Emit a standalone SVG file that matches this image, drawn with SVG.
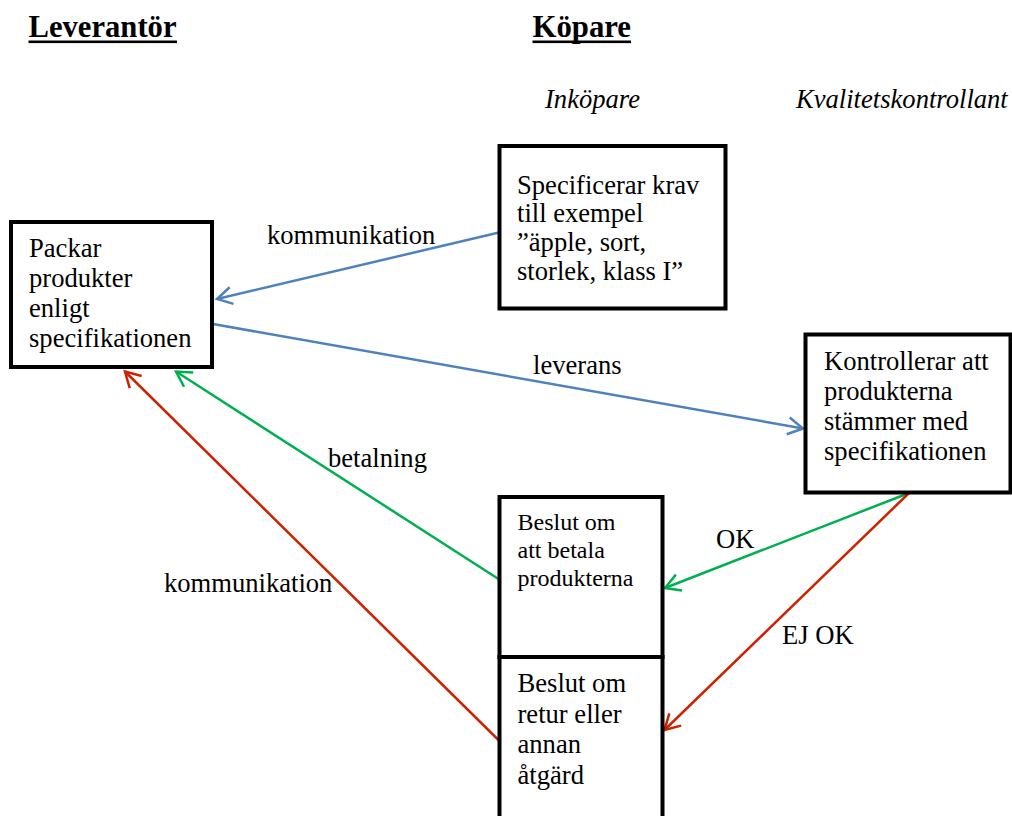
<svg xmlns="http://www.w3.org/2000/svg" width="1012" height="816" viewBox="0 0 1012 816">
<style>
text{font-family:"Liberation Serif","Times New Roman",serif;fill:#000}
.t{font-size:26.6px}
.s{font-size:24px}
.h{font-size:32px;font-weight:bold}
.i{font-size:26.6px;font-style:italic}
.box{fill:#fff;stroke:#000;stroke-width:4}
.c{fill:none;stroke-width:2.5}
.blue{stroke:#4F81BD}
.green{stroke:#00B050}
.red{stroke:#CC2200}
</style>
<defs>
<marker id="ab" markerUnits="userSpaceOnUse" orient="auto" markerWidth="20" markerHeight="20" refX="0" refY="0" viewBox="-17 -10 19 20" overflow="visible"><path d="M-15,-8.5 L0,0 L-15,8.5" fill="none" stroke="#4F81BD" stroke-width="2.5"/></marker>
<marker id="ag" markerUnits="userSpaceOnUse" orient="auto" markerWidth="20" markerHeight="20" refX="0" refY="0" viewBox="-17 -10 19 20" overflow="visible"><path d="M-15,-8.5 L0,0 L-15,8.5" fill="none" stroke="#00B050" stroke-width="2.5"/></marker>
<marker id="ar" markerUnits="userSpaceOnUse" orient="auto" markerWidth="20" markerHeight="20" refX="0" refY="0" viewBox="-17 -10 19 20" overflow="visible"><path d="M-15,-8.5 L0,0 L-15,8.5" fill="none" stroke="#CC2200" stroke-width="2.5"/></marker>
</defs>
<rect width="1012" height="816" fill="#fff"/>
<g id="headers">
<text class="h" x="28.5" y="37" textLength="148" lengthAdjust="spacingAndGlyphs">Leverantör</text>
<rect x="28.5" y="40.5" width="148.5" height="2.6" fill="#000"/>
<text class="h" x="532.5" y="37" textLength="98.5" lengthAdjust="spacingAndGlyphs">Köpare</text>
<rect x="532.5" y="40.5" width="98.5" height="2.6" fill="#000"/>
<text class="i" x="545" y="108">Inköpare</text>
<text class="i" x="796" y="108">Kvalitetskontrollant</text>
</g>
<g id="connectors">
<path class="c blue" d="M499,232.5 L217,299" marker-end="url(#ab)"/>
<path class="c blue" d="M213,324 L803,428.5" marker-end="url(#ab)"/>
<path class="c green" d="M498.5,579 L176,371.5" marker-end="url(#ag)"/>
<path class="c red" d="M499,740.5 L125,371.5" marker-end="url(#ar)"/>
<path class="c green" d="M909,493 L665,588" marker-end="url(#ag)"/>
<path class="c red" d="M909,493 L664.5,730" marker-end="url(#ar)"/>
<text class="t" x="267" y="244">kommunikation</text>
<text class="t" x="533" y="374">leverans</text>
<text class="t" x="328" y="467">betalning</text>
<text class="t" x="164" y="592">kommunikation</text>
<text class="t" x="716" y="548">OK</text>
<text class="t" x="782" y="644">EJ OK</text>
</g>
<g id="node-packar">
<rect class="box" x="11" y="222" width="201" height="145"/>
<text class="t" x="29"><tspan x="29" y="257">Packar</tspan><tspan x="29" y="287">produkter</tspan><tspan x="29" y="317">enligt</tspan><tspan x="29" y="347">specifikationen</tspan></text>
</g>
<g id="node-specificerar">
<rect class="box" x="499.5" y="146" width="226" height="162.5"/>
<text class="t"><tspan x="517" y="193.5">Specificerar krav</tspan><tspan x="517" y="222">till exempel</tspan><tspan x="517" y="251">”äpple, sort,</tspan><tspan x="517" y="280">storlek, klass I”</tspan></text>
</g>
<g id="node-kontrollerar">
<rect class="box" x="805.5" y="334.5" width="205" height="158"/>
<text class="t"><tspan x="824" y="369.5">Kontrollerar att</tspan><tspan x="824" y="400">produkterna</tspan><tspan x="824" y="430">stämmer med</tspan><tspan x="824" y="460">specifikationen</tspan></text>
</g>
<g id="node-betala">
<rect class="box" x="499.5" y="497" width="163" height="160"/>
<text class="s"><tspan x="517.5" y="530">Beslut om</tspan><tspan x="517.5" y="558">att betala</tspan><tspan x="517.5" y="586">produkterna</tspan></text>
</g>
<g id="node-retur">
<rect class="box" x="499.5" y="657" width="163" height="175"/>
<text class="t"><tspan x="517.5" y="692">Beslut om</tspan><tspan x="517.5" y="722.5">retur eller</tspan><tspan x="517.5" y="753">annan</tspan><tspan x="517.5" y="783.5">åtgärd</tspan></text>
</g>
</svg>
